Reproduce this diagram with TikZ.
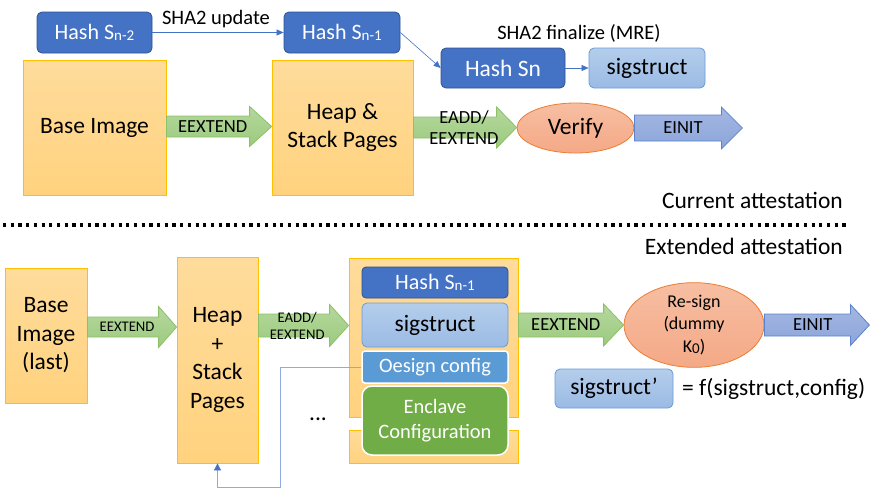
\documentclass[tikz,border=0pt]{standalone}
\usepackage{fontspec}
\setmainfont{Carlito}
\usetikzlibrary{shapes.geometric,calc,arrows.meta}
\definecolor{hashfill}{HTML}{4472C4}
\definecolor{hashdraw}{HTML}{2F528F}
\definecolor{lbtop}{HTML}{B4CDEB}
\definecolor{lbbot}{HTML}{9BBBE5}
\definecolor{lbdraw}{HTML}{6A9BD8}
\definecolor{ortop}{HTML}{FFDC9C}
\definecolor{orbot}{HTML}{FFD27E}
\definecolor{ordraw}{HTML}{FFC000}
\definecolor{grtop}{HTML}{B5D89D}
\definecolor{grbot}{HTML}{9CCA7F}
\definecolor{grdraw}{HTML}{8CC168}
\definecolor{sltop}{HTML}{F7BEA2}
\definecolor{slbot}{HTML}{F4A987}
\definecolor{sldraw}{HTML}{ED7D31}
\definecolor{eitop}{HTML}{A3B7E2}
\definecolor{eibot}{HTML}{8CA5DA}
\definecolor{eidraw}{HTML}{5B82CB}
\definecolor{oesfill}{HTML}{5B9BD5}
\definecolor{encfill}{HTML}{70AD47}
\definecolor{linec}{HTML}{4472C4}
\definecolor{fbline}{HTML}{8FAADC}
\newcommand\subx[1]{\raisebox{-0.8pt}{\fontsize{15}{15}\selectfont #1}}
\newcommand\barrow[6]{%
  \draw[#1] ($(#2)+(0,-#4)$) -- ($(#3)+(-#6,-#4)$) -- ($(#3)+(-#6,-#5)$) -- (#3)
    -- ($(#3)+(-#6,#5)$) -- ($(#3)+(-#6,#4)$) -- ($(#2)+(0,#4)$) -- cycle;}
\tikzset{
  every node/.style={font=\fontsize{23.5}{28}\selectfont, inner sep=0pt, align=center},
  hashbox/.style={draw=hashdraw, fill=hashfill, rounded corners=5pt, text=white, line width=0.8pt, font=\fontsize{22}{26}\selectfont},
  lbbox/.style={draw=lbdraw, top color=lbtop, bottom color=lbbot, rounded corners=5pt, line width=0.8pt},
  orbox/.style={draw=ordraw, top color=ortop, bottom color=orbot, line width=0.8pt},
  grarrow/.style={draw=grdraw, top color=grtop, bottom color=grbot, line width=0.8pt},
  eiarrow/.style={draw=eidraw, top color=eitop, bottom color=eibot, line width=0.8pt},
  sloval/.style={ellipse, draw=sldraw, top color=sltop, bottom color=slbot, line width=0.8pt},
  thinarrow/.style={draw=linec, line width=0.6pt, -{Triangle[length=7pt,width=6pt]}},
  lab/.style={font=\fontsize{18.5}{21}\selectfont},
  slab/.style={font=\fontsize{14.7}{17}\selectfont},
  whitebox/.style={draw=white, line width=1.5pt, text=white, font=\fontsize{20.5}{25}\selectfont},
}
\begin{document}
\begin{tikzpicture}[x=1pt,y=-1pt]
\useasboundingbox (0,0) rectangle (883,488);
% ---------- current attestation ----------
\node[hashbox, minimum width=115, minimum height=41] (h2) at (94.5,32.5) {Hash S\subx{n-2}};
\node[hashbox, minimum width=116, minimum height=41] (h1) at (342,32.5) {Hash S\subx{n-1}};
\node[hashbox, minimum width=124, minimum height=40, font=\fontsize{23.5}{28}\selectfont] (hn) at (503,68) {Hash Sn};
\node[lbbox, minimum width=116, minimum height=40] (sig) at (647,68) {sigstruct};
\node[orbox, minimum width=143, minimum height=135] (base) at (94.5,127.5) {Base Image};
\node[orbox, minimum width=141, minimum height=135] (heap) at (342.5,127.5) {Heap \&\\Stack Pages};
\node[sloval, minimum width=117, minimum height=50] (verify) at (575.5,128) {Verify};

\draw[thinarrow] (h2.east) -- (h1.west);
\draw[thinarrow] (h1.east) -- (hn.west);
\draw[thinarrow] (hn.east) -- (sig.west);
\node[font=\fontsize{20.5}{24}\selectfont] (lupd) at (216,19) {SHA2 update};
\node[font=\fontsize{20.5}{24}\selectfont] (lfin) at (579,33) {SHA2 finalize (MRE)};

\coordinate (a1s) at ($(base.east)+(0,-1)$);
\coordinate (a1e) at (a1s -| heap.west);
\barrow{grarrow}{a1s}{a1e}{10.5}{20}{22}
\node[lab] (t1) at ($(a1s)!0.44!(a1e)$) {EEXTEND};

\coordinate (a2s) at (heap.east);
\coordinate (a2e) at (a2s -| verify.west);
\barrow{grarrow}{a2s}{a2e}{10.5}{20.5}{20}
\node[lab] (t2) at ($(a2s)!0.49!(a2e)$) {EADD/\\EEXTEND};

\coordinate (a3s) at (verify.east);
\coordinate (a3e) at ($(verify.east)+(108,0)$);
\barrow{eiarrow}{a3s}{a3e}{13}{21}{21}
\node[lab] (t3) at ($(a3s)!0.45!(a3e)$) {EINIT};

% ---------- separator ----------
\coordinate (d1) at (3,225);
\coordinate (d2) at (848,225);
\draw[line width=3.2pt, dash pattern=on 3.2pt off 4.5pt] (d1) -- (d2);
\node[anchor=base east] (cur) at (843,208) {Current attestation};
\node[anchor=base east] (ext) at (843,254) {Extended attestation};

% ---------- extended attestation ----------
\node[orbox, minimum width=82, minimum height=135, font=\fontsize{23.5}{28.5}\selectfont] (base2) at (46,335.5) {Base\\Image\\(last)};
\node[orbox, minimum width=81, minimum height=206, font=\fontsize{23.5}{28.5}\selectfont] (heap2) at (217.5,360) {Heap\\+\\Stack\\Pages};
\node[orbox, minimum width=169, minimum height=159] (cont) at (433.5,337.5) {};
\node[orbox, minimum width=169, minimum height=33] (strip) at (433.5,446.5) {};
\node[hashbox, rounded corners=4pt, minimum width=146, minimum height=31] (hash2) at (435,282.5) {Hash S\subx{n-1}};
\node[lbbox, minimum width=146, minimum height=44] (sig2) at (435,325) {sigstruct};
\node[whitebox, fill=oesfill, rounded corners=3pt, minimum width=146, minimum height=32] (oes) at (435,367) {Oesign config};
\node[whitebox, fill=encfill, rounded corners=10pt, minimum width=146, minimum height=69] (encl) at (435,420.5) {Enclave\\Configuration};
\node (dots) at (318,419) {...};

\node[sloval, minimum width=140, minimum height=78, font=\fontsize{18}{22.5}\selectfont] (resign) at (694,325) {Re-sign\\(dummy\\K\subx{0})};
\node[lbbox, minimum width=118, minimum height=39] (sigp) at (614,388.5) {sigstruct’};
\node[anchor=west] (feq) at (682,389) {= f(sigstruct,config)};

\coordinate (a4s) at ($(base2.east)+(0,-8.5)$);
\coordinate (a4e) at (a4s -| heap2.west);
\barrow{grarrow}{a4s}{a4e}{10}{20.5}{18}
\node[slab] (t4) at ($(a4s)!0.445!(a4e)$) {EEXTEND};

\coordinate (a5s) at ($(heap2.east)+(0,-34.5)$);
\coordinate (a5e) at (a5s -| cont.west);
\barrow{grarrow}{a5s}{a5e}{11.5}{21}{19}
\node[slab] (t5) at ($(a5s)!0.43!(a5e)$) {EADD/\\EEXTEND};

\coordinate (a6s) at ($(cont.east)+(0,-12.5)$);
\coordinate (a6e) at (a6s -| resign.west);
\barrow{grarrow}{a6s}{a6e}{12}{21}{20}
\node[lab] (t6) at ($(a6s)!0.45!(a6e)$) {EEXTEND};

\coordinate (a7s) at (resign.east);
\coordinate (a7e) at ($(resign.east)+(105,0)$);
\barrow{eiarrow}{a7s}{a7e}{11}{20.5}{19}
\node[lab] (t7) at ($(a7s)!0.46!(a7e)$) {EINIT};

\coordinate (fb1) at ($(oes.west)+(-81,0)$);
\coordinate (fb2) at ($(fb1)+(0,120)$);
\draw[draw=fbline, line width=0.8pt, -{Triangle[length=7pt,width=7pt,color=linec,fill=linec]}]
  (oes.west) -- (fb1) -- (fb2) -- (fb2 -| heap2.south) -- (heap2.south);
\end{tikzpicture}
\end{document}
